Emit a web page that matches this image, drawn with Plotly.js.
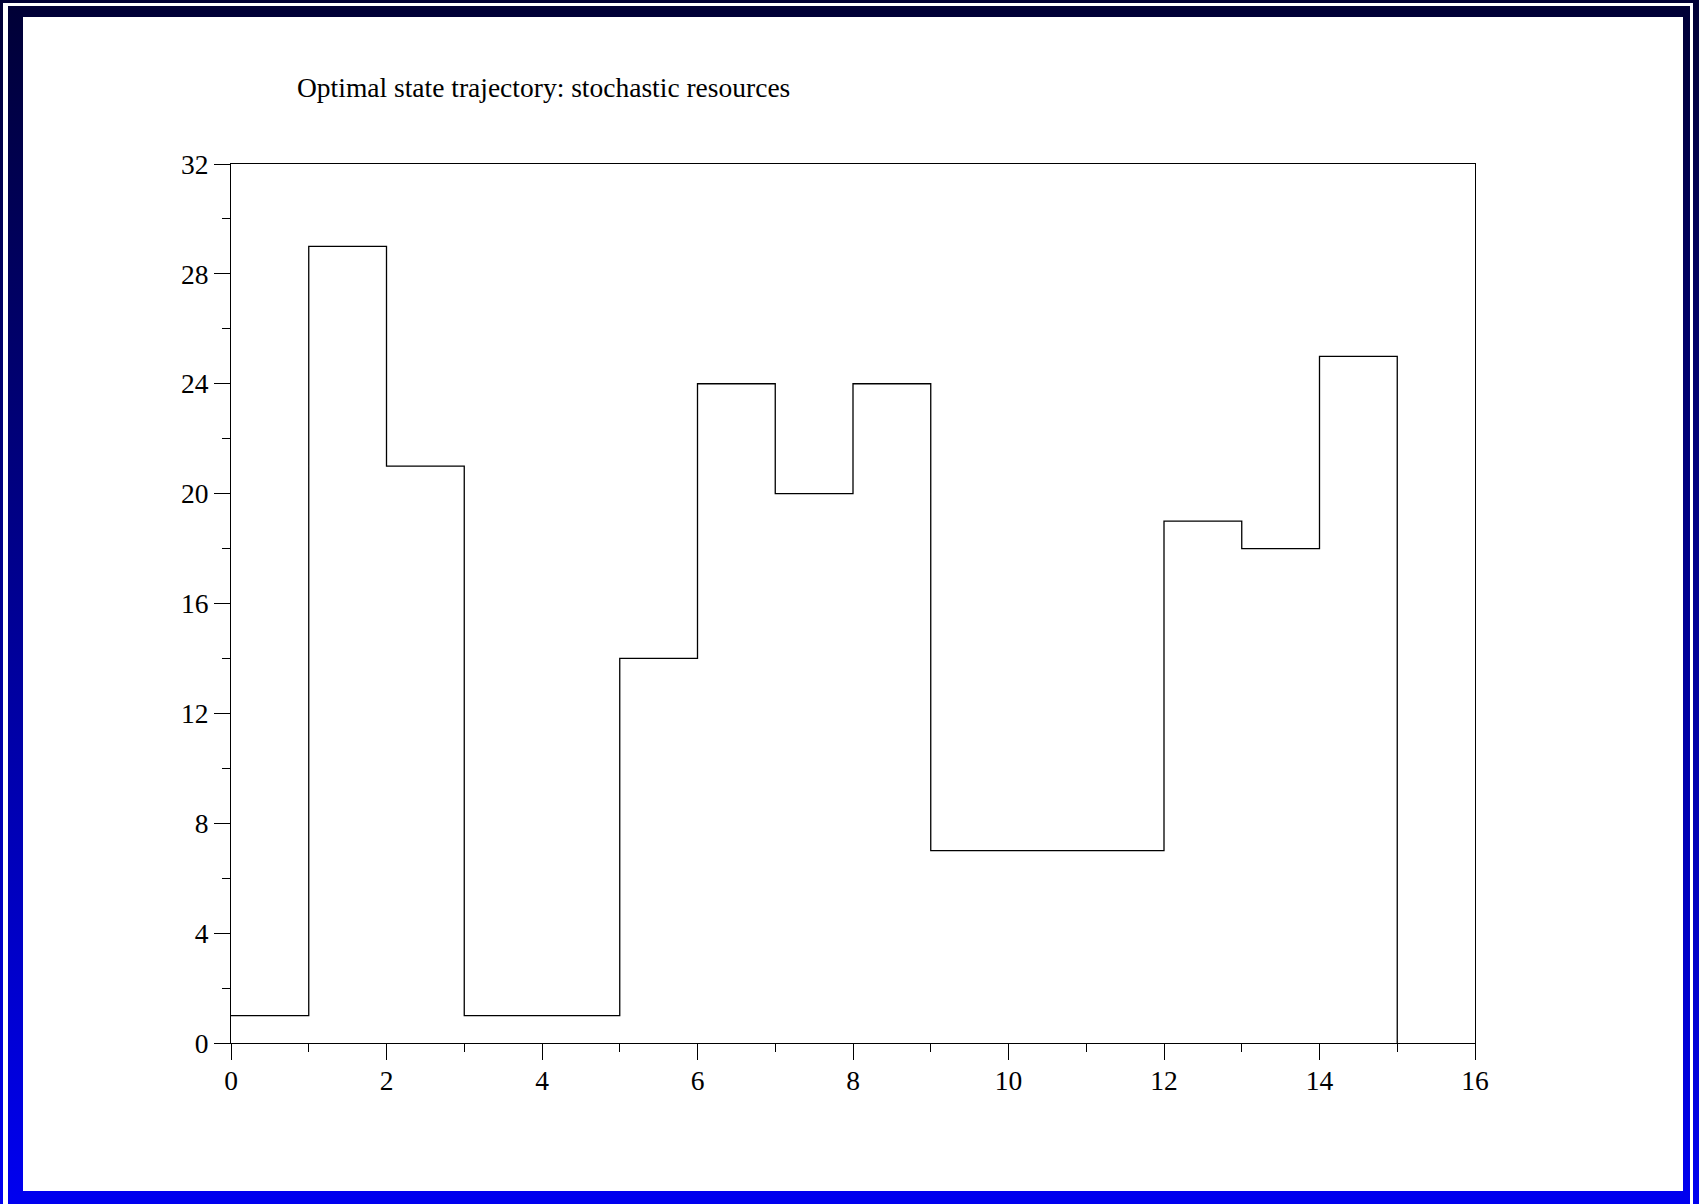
<!DOCTYPE html>
<html>
<head>
<meta charset="utf-8">
<script src="https://cdn.plot.ly/plotly-3.0.1.min.js"></script>
<style>
  html, body { margin: 0; padding: 0; width: 1699px; height: 1204px; overflow: hidden; }
  body { background: linear-gradient(to bottom, #000035 0%, #0000f0 100%); position: relative; }
  #outerline { position: absolute; left: 3px; top: 3px; width: 1690px; height: 1210px;
               border-left: 5px solid #fff; border-top: 3px solid #fff; border-right: 3px solid #fff; box-sizing: border-box; }
  #panel { position: absolute; left: 23px; top: 17px; width: 1660px; height: 1174px; background: #fff; }
  #chart { position: absolute; left: 0; top: 0; width: 1699px; height: 1204px; }
</style>
</head>
<body>
<div id="outerline"></div>
<div id="panel"></div>
<div id="chart"></div>
<script>
// Time steps and optimal state values (step trajectory)
const timeSteps = [0, 1, 2, 3, 4, 5, 6, 7, 8, 9, 10, 11, 12, 13, 14, 15];
const stateValues = [1, 29, 21, 1, 1, 14, 24, 20, 24, 7, 7, 7, 19, 18, 25, 0];
const chartTitle = "Optimal state trajectory: stochastic resources";
const xTicks = [0, 2, 4, 6, 8, 10, 12, 14, 16];
const yTicks = [0, 4, 8, 12, 16, 20, 24, 28, 32];

const fontFamily = "'Liberation Serif', 'Times New Roman', serif";

const trace = {
  x: timeSteps,
  y: stateValues,
  type: 'scatter',
  mode: 'lines',
  line: { shape: 'hv', color: '#000', width: 1.3 },
  hoverinfo: 'x+y'
};

const axisCommon = {
  showgrid: false,
  zeroline: false,
  showline: true,
  linecolor: '#000',
  linewidth: 1,
  mirror: true,
  ticks: 'outside',
  ticklen: 16,
  tickwidth: 1,
  tickcolor: '#000',
  tickfont: { family: fontFamily, size: 27.5, color: '#000' }
};

const layout = {
  width: 1699,
  height: 1204,
  paper_bgcolor: 'rgba(0,0,0,0)',
  plot_bgcolor: '#fff',
  showlegend: false,
  margin: { l: 231, r: 224, t: 164, b: 161 },
  title: {
    text: chartTitle,
    font: { family: fontFamily, size: 27.5, color: '#000' },
    xref: 'container', yref: 'container',
    x: 297 / 1699, xanchor: 'left',
    y: 1 - 87 / 1204, yanchor: 'middle'
  },
  xaxis: Object.assign({}, axisCommon, {
    range: [0, 16],
    ticklabelstandoff: -3,
    tickmode: 'array', tickvals: xTicks, ticktext: xTicks.map(String),
    minor: { dtick: 1, tick0: 0, ticks: 'outside', ticklen: 8, tickcolor: '#000', tickwidth: 1 }
  }),
  yaxis: Object.assign({}, axisCommon, {
    range: [0, 32],
    tickmode: 'array', tickvals: yTicks, ticktext: yTicks.map(String),
    minor: { dtick: 2, tick0: 0, ticks: 'outside', ticklen: 8, tickcolor: '#000', tickwidth: 1 }
  })
};

Plotly.newPlot('chart', [trace], layout, { displayModeBar: false, responsive: false });
</script>
</body>
</html>
